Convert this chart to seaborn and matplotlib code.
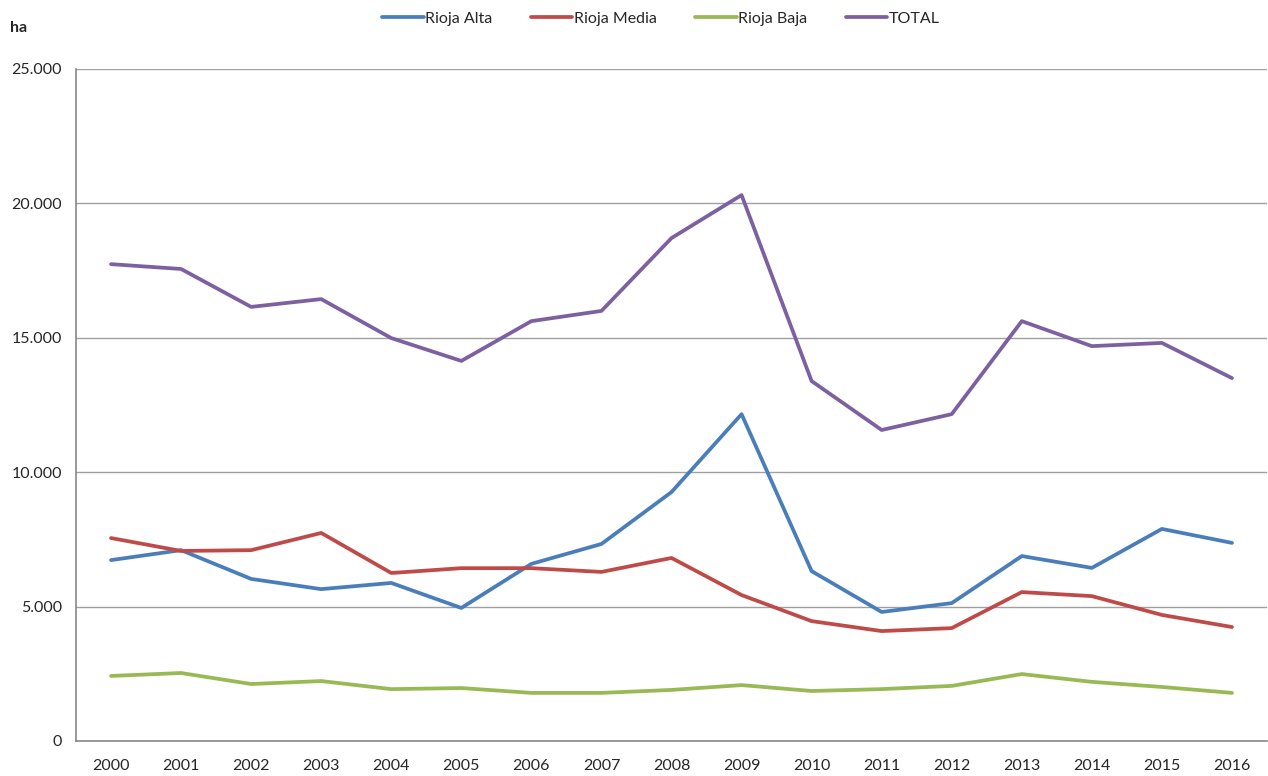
import pandas as pd
import numpy as np
import matplotlib.pyplot as plt
import seaborn as sns
from matplotlib.ticker import FuncFormatter, FixedLocator

years = list(range(2000, 2017))
rioja_alta = [6730, 7100, 6030, 5650, 5880, 4950, 6590, 7330, 9260, 12160,
              6320, 4800, 5130, 6880, 6440, 7890, 7370]
rioja_media = [7550, 7070, 7100, 7740, 6250, 6430, 6430, 6290, 6810, 5430,
               4460, 4090, 4200, 5540, 5390, 4690, 4240]
rioja_baja = [2420, 2530, 2120, 2230, 1930, 1970, 1790, 1790, 1900, 2080,
              1860, 1930, 2050, 2490, 2200, 2010, 1790]
total = [17740, 17560, 16150, 16440, 14990, 14140, 15620, 16000, 18710, 20310,
         13390, 11570, 12160, 15620, 14690, 14810, 13500]

series_names = ['Rioja Alta', 'Rioja Media', 'Rioja Baja', 'TOTAL']
colors = ['#4A7EBB', '#BE4B48', '#98B954', '#7D60A0']

df = pd.DataFrame({'Rioja Alta': rioja_alta, 'Rioja Media': rioja_media,
                   'Rioja Baja': rioja_baja, 'TOTAL': total}, index=years)
long = df.reset_index().melt(id_vars='index', var_name='serie', value_name='ha')
long = long.rename(columns={'index': 'year'})

sns.set_style('white')
plt.rcParams['font.family'] = ['Lato', 'DejaVu Sans']

fig = plt.figure(figsize=(12.68, 7.76), dpi=100)
ax = fig.add_axes([76 / 1268, 1 - 741 / 776, (1267 - 76) / 1268, (741 - 69) / 776])

sns.lineplot(data=long, x='year', y='ha', hue='serie', hue_order=series_names,
             palette=colors, linewidth=2.7, ax=ax, legend=False)

ax.set_xlim(1999.5, 2016.5)
ax.set_ylim(0, 25000)
ax.set_yticks(np.arange(0, 25001, 5000))
ax.yaxis.set_major_formatter(FuncFormatter(lambda v, p: f'{int(v):,}'.replace(',', '.')))
ax.set_xticks(years)
ax.set_xticklabels([str(y) for y in years])
ax.xaxis.set_minor_locator(FixedLocator(np.arange(1999.5, 2017, 1)))
ax.tick_params(axis='x', which='major', length=0, pad=13, labelsize=11.5)
ax.tick_params(axis='x', which='minor', length=6, color='#888888', direction='out')
ax.tick_params(axis='y', length=6, color='#888888', direction='out', labelsize=11.5, pad=4)
ax.yaxis.grid(True, color='#a0a0a0', linewidth=1)
ax.set_axisbelow(True)
ax.set_xlabel('')
ax.set_ylabel('')
for s in ['top', 'right']:
    ax.spines[s].set_visible(False)
for s in ['left', 'bottom']:
    ax.spines[s].set_color('#888888')
    ax.spines[s].set_linewidth(1.2)

handles = [plt.Line2D([], [], color=c, linewidth=2.7) for c in colors]
fig.legend(handles, series_names, loc='center', bbox_to_anchor=(661 / 1268, 1 - 19 / 776),
           ncol=4, frameon=False, fontsize=11.5, handlelength=2.6, handletextpad=0.1,
           columnspacing=2.4)

fig.text(10 / 1268, 1 - 28 / 776, 'ha', fontsize=11.5, fontweight='bold', va='center')

plt.savefig('out.png', dpi=100)
